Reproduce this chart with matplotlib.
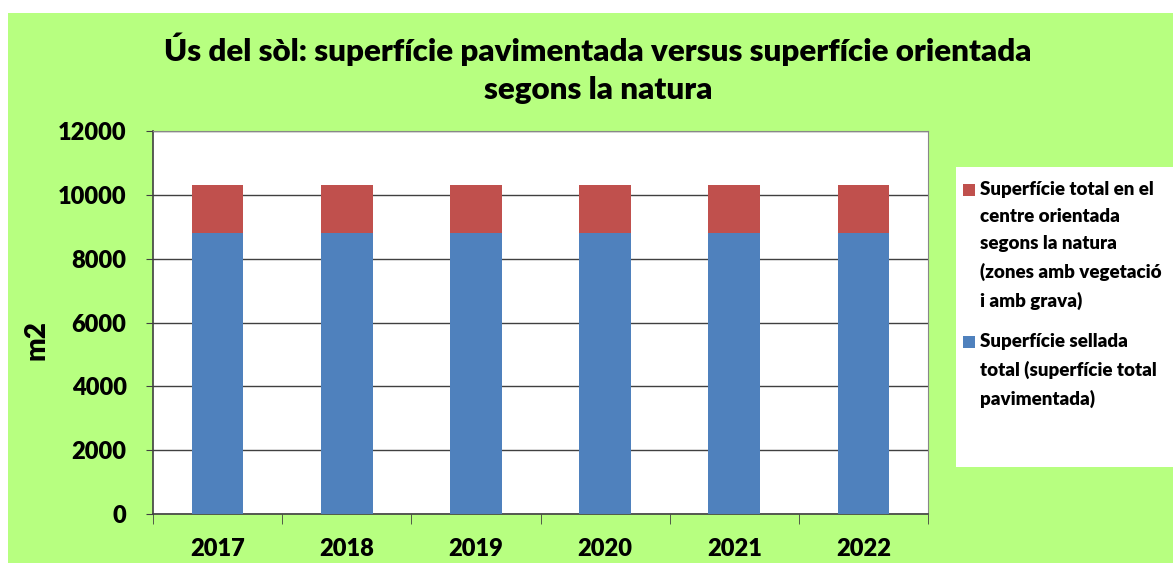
import matplotlib.pyplot as plt
import matplotlib.patches as mpatches
import numpy as np

plt.rcParams['font.family'] = ['Lato', 'DejaVu Sans']
plt.rcParams['font.weight'] = 'heavy'

years = ['2017', '2018', '2019', '2020', '2021', '2022']
sellada = [8800, 8800, 8800, 8800, 8800, 8800]
natura = [1510, 1510, 1510, 1510, 1510, 1510]

label_natura = ('Superfície total en el\ncentre orientada\nsegons la natura\n'
                '(zones amb vegetació\ni amb grava)')
label_sellada = 'Superfície sellada\ntotal (superfície total\npavimentada)'

green = '#b7ff80'
blue = '#4f81bd'
red = '#c0504d'
W, H = 1173, 563
FW = 'heavy'

fig = plt.figure(figsize=(W / 100, H / 100), dpi=100)
fig.patch.set_facecolor('white')
fig.patches.append(mpatches.Rectangle((8 / W, 0), 1, 1 - 13 / H, transform=fig.transFigure,
                                      facecolor=green, edgecolor='none', zorder=-10))

ax = fig.add_axes([153 / W, 1 - 514 / H, (928 - 153) / W, (514 - 131) / H])
ax.set_facecolor('white')

x = np.arange(len(years))
width = 0.4
b1 = ax.bar(x, sellada, width, color=blue, zorder=3)
b2 = ax.bar(x, natura, width, bottom=sellada, color=red, zorder=3)

ax.set_xlim(-0.5, len(years) - 0.5)
ax.set_ylim(0, 12000)
ax.set_yticks(np.arange(0, 12001, 2000))
ax.yaxis.grid(True, color='#404040', linewidth=1.0, zorder=0)
ax.set_axisbelow(True)

ax.set_xticks(x)
ax.set_xticklabels(years, fontsize=17, fontweight=FW)
ax.set_xticks(np.arange(-0.5, len(years)), minor=True)
ax.tick_params(axis='x', which='major', length=0, pad=17)
ax.tick_params(axis='x', which='minor', length=7, direction='out', color='#404040')
ax.tick_params(axis='y', length=5, direction='out', color='#404040', labelsize=17, pad=14)
for lab in ax.get_yticklabels():
    lab.set_fontweight(FW)

for side in ['top', 'right']:
    ax.spines[side].set_color('#888888')
for side in ['left', 'bottom']:
    ax.spines[side].set_color('#404040')
    ax.spines[side].set_linewidth(1.2)

fig.text(36 / W, 1 - 340 / H, 'm2', rotation=90, ha='center', va='center',
         fontsize=20, fontweight=FW)

fig.text(598 / W, 1 - 49 / H, 'Ús del sòl: superfície pavimentada versus superfície orientada',
         ha='center', va='center', fontsize=22.5, fontweight=FW)
fig.text(598 / W, 1 - 90 / H, 'segons la natura',
         ha='center', va='center', fontsize=22.5, fontweight=FW)

# legend box
fig.patches.append(mpatches.Rectangle((956 / W, 1 - 467 / H), (W - 956) / W, 300 / H,
                                      transform=fig.transFigure, facecolor='white',
                                      edgecolor='none', zorder=1))
for color, label, ytop in [(red, label_natura, 184), (blue, label_sellada, 336)]:
    fig.patches.append(mpatches.Rectangle((963 / W, 1 - (ytop + 12) / H), 12 / W, 12 / H,
                                          transform=fig.transFigure, facecolor=color,
                                          edgecolor='none', zorder=2))
    fig.text(980 / W, 1 - (ytop - 3) / H, label, ha='left', va='top', fontsize=13.5,
             fontweight=FW, linespacing=1.72, zorder=3)

plt.savefig('out.png', dpi=100, facecolor=fig.get_facecolor())
